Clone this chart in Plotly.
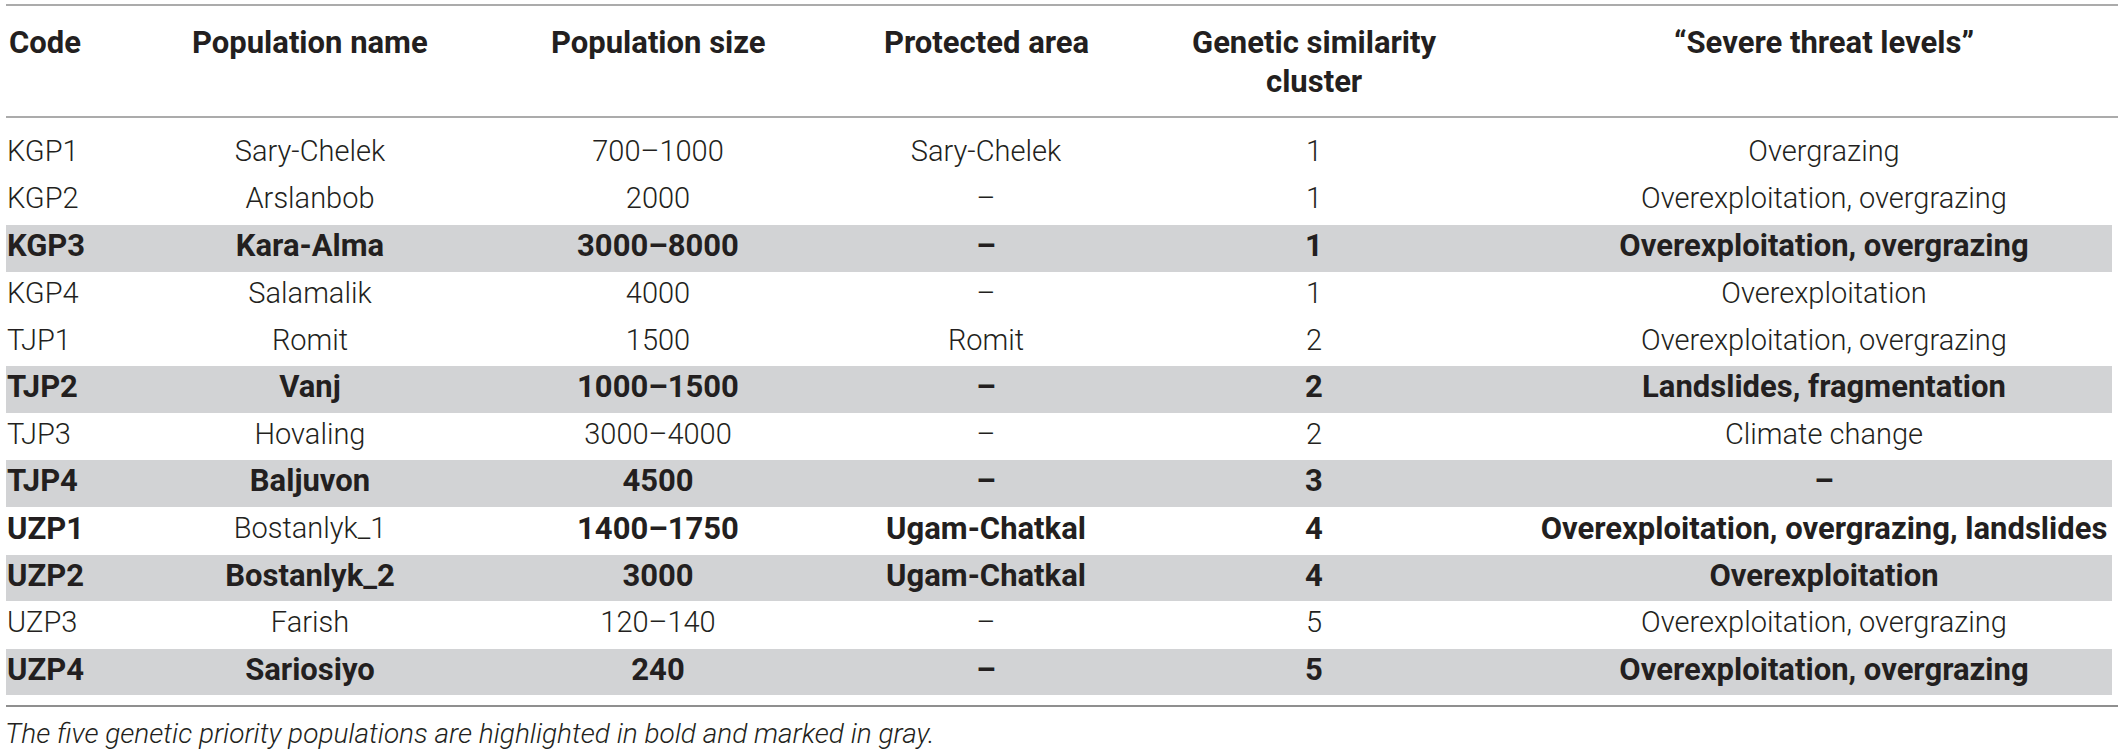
import plotly.graph_objects as go

# table content
codes = ["KGP1", "KGP2", "KGP3", "KGP4", "TJP1", "TJP2", "TJP3", "TJP4", "UZP1", "UZP2", "UZP3", "UZP4"]
pop_names = ["Sary-Chelek", "Arslanbob", "Kara-Alma", "Salamalik", "Romit", "Vanj", "Hovaling", "Baljuvon",
             "Bostanlyk_1", "Bostanlyk_2", "Farish", "Sariosiyo"]
pop_sizes = ["700–1000", "2000", "3000–8000", "4000", "1500", "1000–1500", "3000–4000", "4500",
             "1400–1750", "3000", "120–140", "240"]
protected = ["Sary-Chelek", "–", "–", "–", "Romit", "–", "–", "–", "Ugam-Chatkal", "Ugam-Chatkal", "–", "–"]
clusters = ["1", "1", "1", "1", "2", "2", "2", "3", "4", "4", "5", "5"]
threats = ["Overgrazing", "Overexploitation, overgrazing", "Overexploitation, overgrazing", "Overexploitation",
           "Overexploitation, overgrazing", "Landslides, fragmentation", "Climate change", "–",
           "Overexploitation, overgrazing, landslides", "Overexploitation", "Overexploitation, overgrazing",
           "Overexploitation, overgrazing"]

headers = ["Code", "Population name", "Population size", "Protected area",
           "Genetic similarity<br>cluster", "“Severe threat levels”"]
caption = "The five genetic priority populations are highlighted in bold and marked in gray."

priority_rows = ["KGP3", "TJP2", "TJP4", "UZP2", "UZP4"]  # gray + bold
bold_rows = priority_rows + ["UZP1"]
plain_name_rows = ["UZP1"]  # UZP1 name stays regular

W, H = 2118, 754
FONT = "Roboto"
FS_LIGHT = 29
FS_BOLD = 31
TXT = "#231f20"
GRAY = "#d2d3d5"
LINE = "#8f8f8f"

# column anchor x (pixels)
col_x = [7, 310, 658, 986, 1314, 1824]


def is_bold(code, col_idx):
    return code in bold_rows and not (col_idx == 1 and code in plain_name_rows)


fig = go.Figure()

# gray bands for priority populations
fig.add_trace(go.Bar(
    y=priority_rows,
    x=[W - 12] * len(priority_rows),
    base=6,
    orientation="h",
    width=0.99,
    marker=dict(color=GRAY, line=dict(width=0)),
    hoverinfo="skip",
    showlegend=False,
))

columns = [codes, pop_names, pop_sizes, protected, clusters, threats]
for i, vals in enumerate(columns):
    flags = [is_bold(c, i) for c in codes]
    fig.add_trace(go.Scatter(
        x=[col_x[i]] * len(codes),
        y=codes,
        mode="text",
        text=[f"<b>{v}</b>" if b else v for v, b in zip(vals, flags)],
        textposition="middle right" if i == 0 else "middle center",
        textfont=dict(family=FONT, color=TXT, weight=300,
                      size=[FS_BOLD if b else FS_LIGHT for b in flags]),
        hoverinfo="skip",
        showlegend=False,
    ))

# header row (each line placed on its own)
for i, h in enumerate(headers):
    for k, part in enumerate(h.split("<br>")):
        fig.add_annotation(
            x=col_x[i], y=1 - (42 + 40 * k) / H, xref="x", yref="paper",
            text=f"<b>{part}</b>", showarrow=False,
            xanchor="left" if i == 0 else "center", yanchor="middle",
            font=dict(family=FONT, size=FS_BOLD, color=TXT),
        )

fig.add_annotation(
    x=3 / W, y=1 - 733 / H, xref="paper", yref="paper",
    text=f"<i>{caption}</i>", showarrow=False,
    xanchor="left", yanchor="middle",
    font=dict(family=FONT, size=28, color=TXT, weight=300),
)

# rules
for py, lw in [(5, 1.5), (117, 1.5), (706, 2.2)]:
    fig.add_shape(type="line", xref="paper", yref="paper",
                  x0=6 / W, x1=1, y0=1 - py / H, y1=1 - py / H,
                  line=dict(color=LINE, width=lw))

pitch = 47.1
r0 = -154 / pitch
fig.update_layout(
    width=W, height=H,
    margin=dict(l=0, r=0, t=0, b=0),
    paper_bgcolor="white", plot_bgcolor="white",
    bargap=0,
    xaxis=dict(range=[0, W], visible=False, fixedrange=True),
    yaxis=dict(type="category", categoryorder="array", categoryarray=codes,
               range=[r0 + H / pitch, r0], visible=False, fixedrange=True),
)

# drop the default page margin so the figure sits at the window origin
fig.write_html(
    "out.html",
    config={"displayModeBar": False},
    post_script="document.body.style.margin='0';document.body.style.overflow='hidden';",
)
